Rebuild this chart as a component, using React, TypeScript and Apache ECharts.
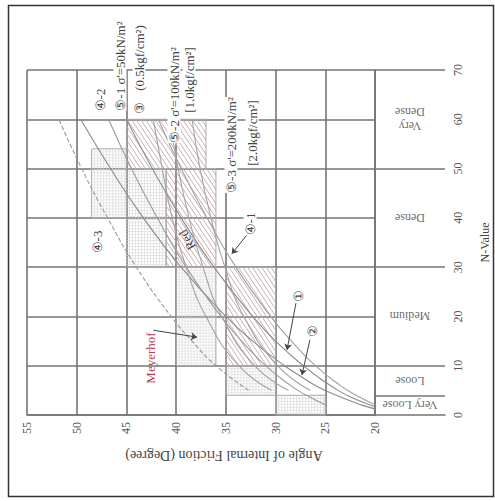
import React, { useEffect, useRef } from "react";
import * as echarts from "echarts";

// ---- axis / category data ----
const angleMin = 20;
const angleMax = 55;
const nMin = 0;
const nMax = 70;
const densityNames = ["Very Loose", "Loose", "Medium", "Dense", "Very\nDense"];
const densityLabelN = [2, 7, 20, 40, 60];
const densityBounds = [4, 10, 30, 50, 70];

// ---- shaded ranges [phiA, phiB, nA, nB] ----
const meyerhofBoxes = [
  [25, 30, 0, 4],
  [30, 35, 4, 10],
  [36, 40, 10, 30],
  [41, 45, 30, 50],
  [45, 48.5, 40, 54],
];
const hatchBoxes = [
  [37, 45, 50, 60],
  [36, 41, 30, 50],
  [30, 35, 10, 30],
];

// ---- curves [phi, N] ----
const curveOhsaki = [[20, 1.25], [21.3, 2], [23.9, 4], [26, 6], [27.6, 8], [29.1, 10], [32.3, 15], [35, 20], [39.5, 30], [43.3, 40], [46.6, 50], [49.6, 60]];
const curveRoad = [[20, 1.67], [21.7, 3], [23.7, 5], [27.2, 10], [30, 15], [32.3, 20], [36.2, 30], [39.5, 40], [42.4, 50], [45, 60]];
const curveDunham1 = [[20, 2.1], [21.9, 4], [23.5, 6], [26, 10], [28.4, 15], [30.5, 20], [34, 30], [36.9, 40], [39.5, 50], [41.8, 60]];
const curveDunham2 = [[24.9, 2], [26.9, 4], [28.5, 6], [31, 10], [33.4, 15], [35.5, 20], [39, 30], [41.9, 40], [44.5, 50], [46.8, 60]];
const curveDunham3 = [[32.7, 5], [36, 10], [38.4, 15], [40.5, 20], [44, 30], [46.9, 40], [49.5, 50], [51.8, 60]];
const curveSigma50 = [[30.4, 5], [33.7, 10], [37, 20], [39, 30], [40.4, 40], [41.4, 50], [42.3, 60]];
const curveSigma100 = [[28.7, 5], [32.1, 10], [35.4, 20], [37.3, 30], [38.7, 40], [39.8, 50], [40.7, 60]];
const curveSigma200 = [[26.5, 5], [29.8, 10], [33.2, 20], [35.1, 30], [36.5, 40], [37.6, 50], [38.4, 60]];

// ---- arrows [fromPhi, fromN, toPhi, toN] ----
const arrows = [
  [32.9, 36.5, 34.4, 32.7],
  [42.3, 17.2, 37.9, 15.8],
  [27.95, 22.7, 28.85, 13.2],
  [26.55, 15.2, 27.35, 8.1],
];

const serif = "'Liberation Serif', 'Times New Roman', serif";
const gridColor = "#747474";

function crossHatch(params: any, api: any) {
  const p1 = api.coord([api.value(0), api.value(2)]);
  const p2 = api.coord([api.value(1), api.value(3)]);
  const x0 = Math.min(p1[0], p2[0]);
  const x1 = Math.max(p1[0], p2[0]);
  const y0 = Math.min(p1[1], p2[1]);
  const y1 = Math.max(p1[1], p2[1]);
  const children: any[] = [];
  for (let x = x0 + 3; x < x1; x += 3) {
    children.push({ type: "line", shape: { x1: x, y1: y0, x2: x, y2: y1 }, style: { stroke: "#d6d6d6", lineWidth: 0.6 } });
  }
  for (let y = y0 + 3; y < y1; y += 3) {
    children.push({ type: "line", shape: { x1: x0, y1: y, x2: x1, y2: y }, style: { stroke: "#d6d6d6", lineWidth: 0.6 } });
  }
  children.push({ type: "rect", shape: { x: x0, y: y0, width: x1 - x0, height: y1 - y0 }, style: { fill: "none", stroke: "#aaaaaa", lineWidth: 1 } });
  return { type: "group", children };
}

function diagHatch(params: any, api: any) {
  const p1 = api.coord([api.value(0), api.value(2)]);
  const p2 = api.coord([api.value(1), api.value(3)]);
  const x0 = Math.min(p1[0], p2[0]);
  const x1 = Math.max(p1[0], p2[0]);
  const y0 = Math.min(p1[1], p2[1]);
  const y1 = Math.max(p1[1], p2[1]);
  const m = 1.5;
  const children: any[] = [];
  let i = 0;
  for (let k = y0 - m * x1; k <= y1 - m * x0; k += 7) {
    const sx = Math.max(x0, (y0 - k) / m);
    const ex = Math.min(x1, (y1 - k) / m);
    if (ex > sx) {
      children.push({
        type: "line",
        shape: { x1: sx, y1: m * sx + k, x2: ex, y2: m * ex + k },
        style: { stroke: i % 2 === 0 ? "#d2a3ab" : "#ababab", lineWidth: 0.9 },
      });
    }
    i++;
  }
  children.push({ type: "rect", shape: { x: x0, y: y0, width: x1 - x0, height: y1 - y0 }, style: { fill: "none", stroke: "#a8a8a8", lineWidth: 1 } });
  return { type: "group", children };
}

type Note = { t: string; x: number; y: number; r?: number; c?: string; s?: number; bg?: boolean };
const notes: Note[] = [
  { t: "⑤-1 σ'=50kN/m²", x: 120, y: 66, s: 13, bg: true },
  { t: "(0.5kgf/cm²)", x: 139, y: 58, s: 13, bg: true },
  { t: "③", x: 139, y: 108, s: 13 },
  { t: "④-2", x: 100, y: 100, s: 13 },
  { t: "⑤-2 σ'=100kN/m²", x: 174, y: 95, s: 13, bg: true },
  { t: "[1.0kgf/cm²]", x: 189, y: 80, s: 13, bg: true },
  { t: "⑤-3 σ'=200kN/m²", x: 231, y: 145, s: 13, bg: true },
  { t: "[2.0kgf/cm²]", x: 252, y: 133, s: 13, bg: true },
  { t: "④-1", x: 250, y: 224, s: 13, bg: true },
  { t: "④-3", x: 97, y: 242, s: 13 },
  { t: "Red", x: 187, y: 240, r: 2.1, s: 13 },
  { t: "Meyerhof", x: 150, y: 358, c: "#b23a5c", s: 13 },
  { t: "①", x: 298, y: 296, s: 13, bg: true },
  { t: "②", x: 312, y: 331, s: 13, bg: true },
];

function lineSeries(data: number[][], color: string, type: string = "solid", extra: any = {}) {
  return {
    type: "line",
    xAxisIndex: 0,
    yAxisIndex: 0,
    data,
    smooth: true,
    symbol: "none",
    lineStyle: { color, width: 1.1, type },
    z: 4,
    silent: true,
    ...extra,
  };
}

export default function App() {
  const ref = useRef<HTMLDivElement>(null);
  useEffect(() => {
    const chart = echarts.init(ref.current!, null, { renderer: "svg" });
    const option: any = {
      animation: false,
      backgroundColor: "#ffffff",
      grid: [
        { left: 27, top: 70, width: 348, height: 345 },
        { left: 375, top: 70, width: 70, height: 345 },
      ],
      xAxis: [
        {
          gridIndex: 0,
          type: "value",
          min: angleMin,
          max: angleMax,
          interval: 5,
          inverse: true,
          axisLine: { show: true, lineStyle: { color: gridColor, width: 1.6 } },
          axisTick: { show: false },
          axisLabel: { rotate: 90, fontFamily: serif, fontSize: 12, color: "#555", margin: 7 },
          splitLine: { show: true, lineStyle: { color: gridColor, width: 1.6 } },
        },
        {
          gridIndex: 1,
          type: "value",
          min: 0,
          max: 1,
          axisLine: { show: true, onZero: false, lineStyle: { color: gridColor, width: 1.6 } },
          axisTick: { show: false },
          axisLabel: { show: false },
          splitLine: { show: false },
        },
      ],
      yAxis: [
        {
          gridIndex: 0,
          type: "value",
          min: nMin,
          max: nMax,
          interval: 10,
          axisLine: { show: false },
          axisTick: { show: false },
          axisLabel: { show: false },
          splitLine: { show: true, lineStyle: { color: gridColor, width: 1.6 } },
        },
        {
          gridIndex: 1,
          type: "value",
          position: "right",
          min: nMin,
          max: nMax,
          interval: 10,
          axisLine: { show: true, lineStyle: { color: gridColor, width: 1.6 } },
          axisTick: { show: false },
          axisLabel: { rotate: 90, fontFamily: serif, fontSize: 12, color: "#555", margin: 7 },
          splitLine: { show: false },
          name: "N-Value",
          nameLocation: "middle",
          nameRotate: 90,
          nameGap: 34,
          nameTextStyle: { fontFamily: serif, fontSize: 12, color: "#444" },
        },
      ],
      series: [
        {
          type: "custom",
          xAxisIndex: 0,
          yAxisIndex: 0,
          renderItem: crossHatch,
          data: meyerhofBoxes,
          z: 2,
          silent: true,
        },
        {
          type: "custom",
          xAxisIndex: 0,
          yAxisIndex: 0,
          renderItem: diagHatch,
          data: hatchBoxes,
          z: 3,
          silent: true,
        },
        lineSeries(curveOhsaki, "#8a8a8a", "solid", {
          markLine: {
            silent: true,
            symbol: ["none", "arrow"],
            symbolSize: 6,
            label: { show: false },
            lineStyle: { color: "#444", width: 1, type: "solid" },
            data: arrows.map((a) => [{ coord: [a[0], a[1]] }, { coord: [a[2], a[3]] }]),
          },
        }),
        lineSeries(curveRoad, "#8a8a8a"),
        lineSeries(curveDunham1, "#a0a0a0"),
        lineSeries(curveDunham2, "#9a9a9a"),
        lineSeries(curveDunham3, "#9a9a9a", "dashed"),
        lineSeries(curveSigma50, "#a3a3a3"),
        lineSeries(curveSigma100, "#a3a3a3"),
        lineSeries(curveSigma200, "#a3a3a3"),
        {
          type: "scatter",
          xAxisIndex: 1,
          yAxisIndex: 1,
          symbolSize: 0,
          silent: true,
          data: densityNames.map((n, i) => ({ value: [0.5, densityLabelN[i]], name: n })),
          label: {
            show: true,
            position: "inside",
            rotate: 180,
            formatter: (p: any) => p.name,
            fontFamily: serif,
            fontSize: 12,
            color: "#444",
            lineHeight: 14,
          },
          markLine: {
            silent: true,
            symbol: "none",
            label: { show: false },
            lineStyle: { color: gridColor, width: 1.6, type: "solid" },
            data: densityBounds.map((b) => ({ yAxis: b })),
          },
        },
      ],
      graphic: [
        {
          type: "rect",
          shape: { x: 8.5, y: 5.5, width: 485, height: 491 },
          style: { fill: "none", stroke: "#333", lineWidth: 1.5 },
          z: 100,
        },
        {
          type: "text",
          x: 224,
          y: 455,
          rotation: Math.PI,
          style: {
            text: "Angle of Internal Friction (Degree)",
            fontFamily: serif,
            fontSize: 14,
            fill: "#444",
            align: "center",
            verticalAlign: "middle",
          },
          z: 100,
        },
        ...notes.map((n) => ({
          type: "text",
          x: n.x,
          y: n.y,
          rotation: n.r !== undefined ? n.r : Math.PI / 2,
          style: {
            text: n.t,
            fontFamily: serif,
            fontSize: n.s || 11,
            fill: n.c || "#444",
            align: "center",
            verticalAlign: "middle",
            backgroundColor: n.bg ? "#ffffff" : undefined,
          },
          z: 100,
        })),
      ],
    };
    chart.setOption(option);
    return () => chart.dispose();
  }, []);
  return (
    <div
      ref={ref}
      style={{ position: "absolute", left: 0, top: 0, width: 495, height: 501, background: "#fff" }}
    />
  );
}
